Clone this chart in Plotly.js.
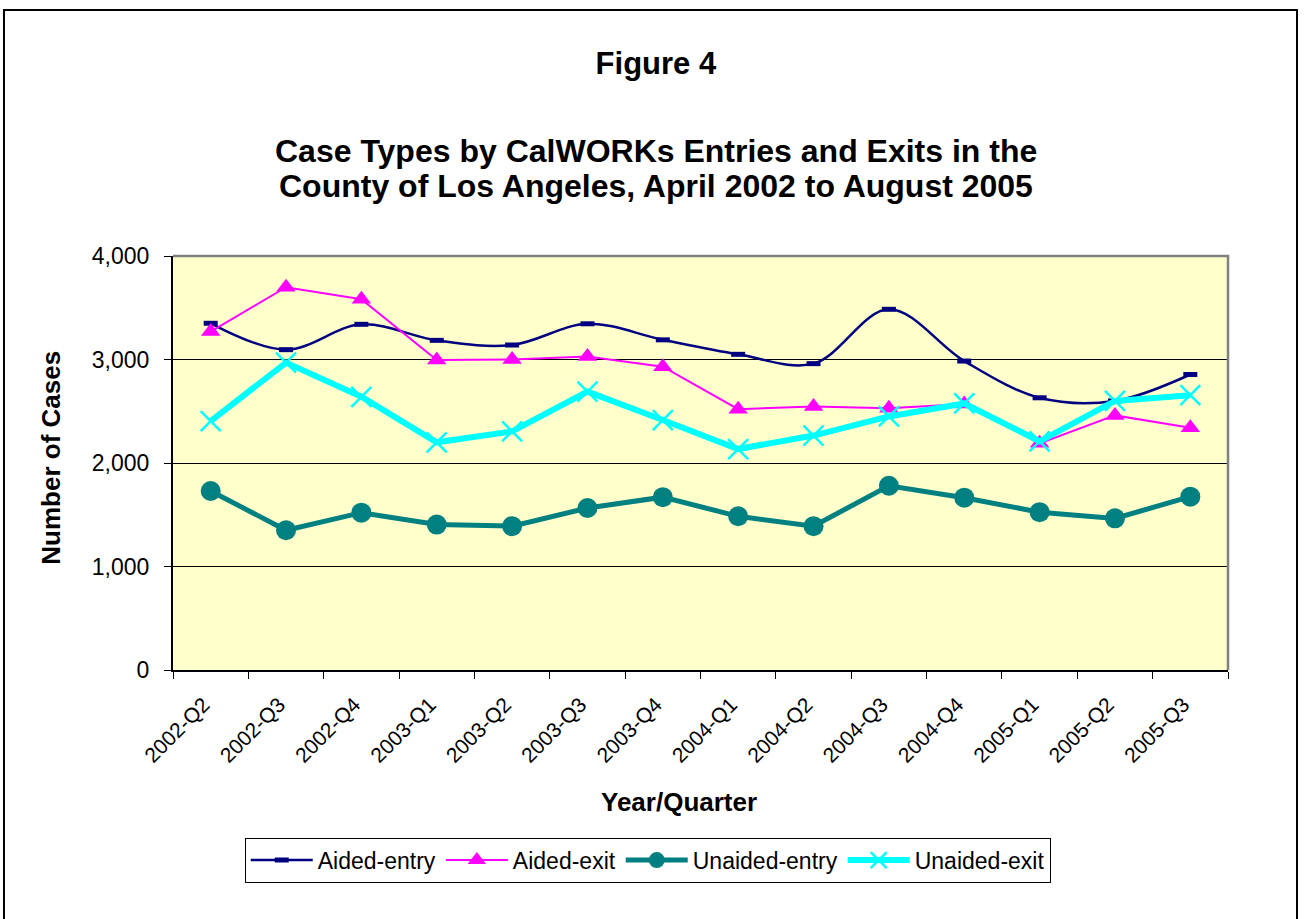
<!DOCTYPE html>
<html>
<head>
<meta charset="utf-8">
<script src="https://cdn.plot.ly/plotly-3.0.1.min.js"></script>
<style>
  html, body { margin: 0; padding: 0; background: #ffffff; }
  #chart { width: 1304px; height: 919px; }
</style>
</head>
<body>
<div id="chart"></div>
<script>
// ---- Data ----
const quarters = ['2002-Q2','2002-Q3','2002-Q4','2003-Q1','2003-Q2','2003-Q3','2003-Q4',
                  '2004-Q1','2004-Q2','2004-Q3','2004-Q4','2005-Q1','2005-Q2','2005-Q3'];
const aidedEntry   = [3350, 3095, 3340, 3185, 3140, 3345, 3190, 3050, 2960, 3485, 2985, 2630, 2600, 2855];
const aidedExit    = [3270, 3698, 3583, 2995, 3000, 3030, 2930, 2520, 2545, 2530, 2570, 2190, 2460, 2340];
const unaidedEntry = [1730, 1350, 1520, 1405, 1390, 1565, 1670, 1485, 1390, 1780, 1665, 1525, 1465, 1675];
const unaidedExit  = [2405, 2970, 2640, 2200, 2305, 2690, 2415, 2135, 2265, 2450, 2575, 2210, 2600, 2655];
const yTicks = [0, 1000, 2000, 3000, 4000];

const FONT = 'Liberation Sans, Arial, Helvetica, sans-serif';

const traces = [
  {
    name: 'Aided-entry', x: quarters, y: aidedEntry, type: 'scatter', mode: 'lines+markers',
    line: { color: '#000080', width: 2.5, shape: 'spline', smoothing: 1 },
    marker: { symbol: 'line-ew', size: 10, color: '#000080', line: { color: '#000080', width: 5 } }
  },
  {
    name: 'Aided-exit', x: quarters, y: aidedExit, type: 'scatter', mode: 'lines+markers',
    line: { color: '#FF00FF', width: 2 },
    marker: { symbol: 'triangle-up', size: 17, color: '#FF00FF' }
  },
  {
    name: 'Unaided-entry', x: quarters, y: unaidedEntry, type: 'scatter', mode: 'lines+markers',
    line: { color: '#008080', width: 5 },
    marker: { symbol: 'circle', size: 20, color: '#008080' }
  },
  {
    name: 'Unaided-exit', x: quarters, y: unaidedExit, type: 'scatter', mode: 'lines+markers',
    line: { color: '#00FFFF', width: 6 },
    marker: { symbol: 'x-thin-open', size: 20, color: '#00FFFF', line: { color: '#00FFFF', width: 2.5 } }
  }
];

const layout = {
  width: 1304, height: 919,
  margin: { l: 173, r: 76, t: 256, b: 249, pad: 0 },
  paper_bgcolor: '#ffffff',
  plot_bgcolor: '#FFFFCC',
  font: { family: FONT, color: '#000000', size: 22 },
  showlegend: true,
  title: {
    text: '<b>Figure 4</b>',
    font: { family: FONT, size: 31, color: '#000000' },
    x: 0.503, xref: 'container', xanchor: 'center',
    y: 0.9314, yref: 'container', yanchor: 'middle'
  },
  xaxis: {
    type: 'category',
    range: [-0.5, 13.5],
    tickson: 'boundaries',
    ticks: 'outside', ticklen: 7, tickwidth: 1, tickcolor: '#000000',
    showline: true, linecolor: '#000000', linewidth: 2,
    showgrid: false, zeroline: false,
    tickangle: -45,
    tickfont: { family: FONT, size: 21, color: '#000000' },
    ticklabelstandoff: 12,
    ticklabelshift: -7,
    fixedrange: true
  },
  yaxis: {
    range: [0, 4000],
    tickvals: yTicks,
    tickformat: ',d',
    ticks: 'outside', ticklen: 7, tickwidth: 1, tickcolor: '#000000',
    showline: true, linecolor: '#000000', linewidth: 2,
    showgrid: true, gridcolor: '#000000', gridwidth: 1,
    zeroline: false,
    tickfont: { family: FONT, size: 23, color: '#000000' },
    ticklabelstandoff: 10,
    fixedrange: true
  },
  legend: {
    orientation: 'h',
    x: 0.068, xanchor: 'left',
    y: -0.405, yanchor: 'top',
    bgcolor: '#ffffff', bordercolor: '#000000', borderwidth: 1,
    font: { family: FONT, size: 23, color: '#000000' },
    itemwidth: 62,
    tracegroupgap: 0
  },
  annotations: [
    {
      text: '<b>Case Types by CalWORKs Entries and Exits in the</b>',
      xref: 'paper', yref: 'paper', x: 0.4578, y: 1.2536,
      xanchor: 'center', yanchor: 'middle', showarrow: false,
      font: { family: FONT, size: 32, color: '#000000' }
    },
    {
      text: '<b>County of Los Angeles, April 2002 to August 2005</b>',
      xref: 'paper', yref: 'paper', x: 0.4578, y: 1.169,
      xanchor: 'center', yanchor: 'middle', showarrow: false,
      font: { family: FONT, size: 32, color: '#000000' }
    },
    {
      text: '<b>Number of Cases</b>',
      xref: 'paper', yref: 'paper', x: -0.1156, y: 0.513,
      xanchor: 'center', yanchor: 'middle', textangle: -90, showarrow: false,
      font: { family: FONT, size: 26, color: '#000000' }
    },
    {
      text: '<b>Year/Quarter</b>',
      xref: 'paper', yref: 'paper', x: 0.4796, y: -0.3188,
      xanchor: 'center', yanchor: 'middle', showarrow: false,
      font: { family: FONT, size: 26, color: '#000000' }
    }
  ],
  shapes: [
    // gray top/right border of plot area
    {
      type: 'path', xref: 'paper', yref: 'paper',
      path: 'M 0 1 L 1 1 L 1 0',
      line: { color: '#808080', width: 2.5 }, layer: 'above'
    },
    // outer frame of the figure
    {
      type: 'rect', xref: 'paper', yref: 'paper',
      x0: -0.1602, x1: 1.0654, y0: -0.62, y1: 1.5942,
      line: { color: '#000000', width: 2 }, fillcolor: 'rgba(0,0,0,0)', layer: 'above'
    }
  ]
};

Plotly.newPlot('chart', traces, layout, { displayModeBar: false, staticPlot: true });
</script>
</body>
</html>
